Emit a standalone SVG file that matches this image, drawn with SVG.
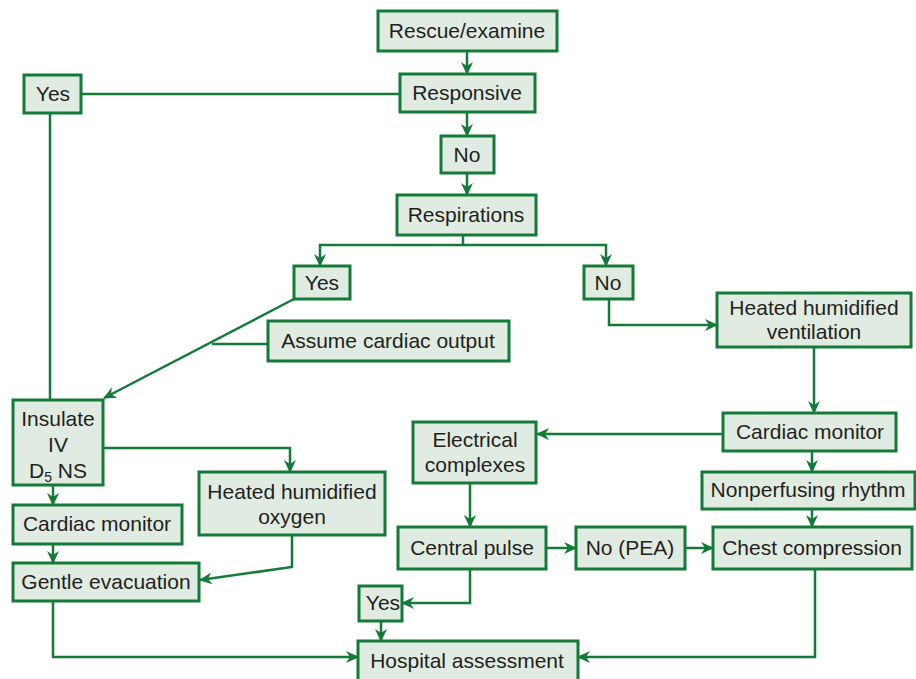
<svg xmlns="http://www.w3.org/2000/svg" width="916" height="679" viewBox="0 0 916 679">
<style>
.box{fill:#e0ebe1;stroke:#137a38;stroke-width:3}
.t{font-family:"Liberation Sans",Arial,sans-serif;font-size:21px;fill:#231f20;text-anchor:middle}
.c path{fill:none;stroke:#137a38;stroke-width:2.5}
.a{marker-end:url(#ah)}
</style>
<defs>
<marker id="ah" markerUnits="userSpaceOnUse" markerWidth="14" markerHeight="12" refX="12" refY="6" orient="auto">
<path d="M0,0 L13,6 L0,12 L4,6 z" fill="#137a38"/>
</marker>
</defs>
<rect width="916" height="679" fill="#fff"/>
<g class="c" id="connectors">
<path class="a" d="M467,51 V74"/>
<path class="a" d="M467,112 V136"/>
<path class="a" d="M467,173 V195"/>
<path d="M81,94 H400"/>
<path d="M50,113 V400"/>
<path d="M463,235 V245"/>
<path class="a" d="M463,245 H320 V266"/>
<path class="a" d="M463,245 H606 V266"/>
<path class="a" d="M609,299 V325 H717"/>
<path class="a" d="M294,299 L104,398"/>
<path d="M268,344 H212"/>
<path class="a" d="M814,347 V413"/>
<path class="a" d="M723,434 H537"/>
<path class="a" d="M812,451 V472"/>
<path class="a" d="M812,509 V527"/>
<path class="a" d="M470,483 V527"/>
<path class="a" d="M546,548 H576"/>
<path class="a" d="M685,548 H713"/>
<path class="a" d="M470,569 V603 H402"/>
<path class="a" d="M381,621 V641"/>
<path class="a" d="M815,569 V657 H578"/>
<path class="a" d="M53,601 V657 H358"/>
<path class="a" d="M103,448 H290 V472"/>
<path class="a" d="M53,485 V505"/>
<path class="a" d="M53,544 V563"/>
<path class="a" d="M292,535 V567 L200,580"/>
</g>
<g id="rescue"><rect class="box" x="378" y="11" width="179" height="40"/><text class="t" x="467" y="38">Rescue/examine</text></g>
<g id="responsive"><rect class="box" x="400" y="74" width="135" height="38"/><text class="t" x="467" y="100">Responsive</text></g>
<g id="yes-top"><rect class="box" x="24" y="75" width="57" height="38"/><text class="t" x="53" y="101">Yes</text></g>
<g id="no-top"><rect class="box" x="441" y="136" width="53" height="37"/><text class="t" x="467" y="162">No</text></g>
<g id="respirations"><rect class="box" x="397" y="195" width="139" height="40"/><text class="t" x="466" y="222">Respirations</text></g>
<g id="yes-mid"><rect class="box" x="294" y="266" width="56" height="33"/><text class="t" x="322" y="290">Yes</text></g>
<g id="no-mid"><rect class="box" x="584" y="266" width="49" height="33"/><text class="t" x="608" y="290">No</text></g>
<g id="assume"><rect class="box" x="268" y="321" width="241" height="40"/><text class="t" x="388" y="348">Assume cardiac output</text></g>
<g id="hhv"><rect class="box" x="717" y="293" width="194" height="54"/><text class="t" x="814" y="315">Heated humidified</text><text class="t" x="814" y="339">ventilation</text></g>
<g id="insulate"><rect class="box" x="13" y="400" width="90" height="85"/><text class="t" x="58" y="426">Insulate</text><text class="t" x="58" y="452">IV</text><text class="t" x="58" y="478">D<tspan font-size="14" dy="4">5</tspan><tspan dy="-4"> NS</tspan></text></g>
<g id="hho"><rect class="box" x="199" y="472" width="186" height="63"/><text class="t" x="292" y="499">Heated humidified</text><text class="t" x="292" y="524">oxygen</text></g>
<g id="cardiac-left"><rect class="box" x="13" y="505" width="169" height="39"/><text class="t" x="97" y="531">Cardiac monitor</text></g>
<g id="gentle"><rect class="box" x="13" y="563" width="186" height="38"/><text class="t" x="106" y="589">Gentle evacuation</text></g>
<g id="electrical"><rect class="box" x="413" y="422" width="123" height="61"/><text class="t" x="475" y="447">Electrical</text><text class="t" x="475" y="472">complexes</text></g>
<g id="cardiac-right"><rect class="box" x="723" y="413" width="173" height="38"/><text class="t" x="810" y="439">Cardiac monitor</text></g>
<g id="nonperfusing"><rect class="box" x="702" y="472" width="213" height="37"/><text class="t" x="808" y="497">Nonperfusing rhythm</text></g>
<g id="central"><rect class="box" x="398" y="527" width="148" height="42"/><text class="t" x="472" y="555">Central pulse</text></g>
<g id="pea"><rect class="box" x="576" y="527" width="109" height="42"/><text class="t" x="630" y="555">No (PEA)</text></g>
<g id="chest"><rect class="box" x="713" y="527" width="199" height="42"/><text class="t" x="812" y="555">Chest compression</text></g>
<g id="yes-bottom"><rect class="box" x="359" y="586" width="43" height="35"/><text class="t" x="383" y="610">Yes</text></g>
<g id="hospital"><rect class="box" x="358" y="641" width="220" height="42"/><text class="t" x="467" y="668">Hospital assessment</text></g>
</svg>
